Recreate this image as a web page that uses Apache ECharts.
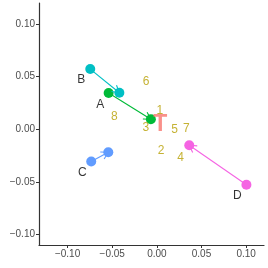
<!DOCTYPE html>
<html><head><meta charset="utf-8">
<script src="https://cdn.jsdelivr.net/npm/echarts@6/dist/echarts.min.js"></script>
<style>html,body{margin:0;padding:0;background:#fff}#c{width:268px;height:268px}</style>
</head><body><div id="c"></div>
<script>
const groups = ['A','B','C','D'];
const groupColors = ['#00BA38','#00BFC4','#619CFF','#F564E3'];
const startX = [-0.054,-0.0746,-0.0735,0.1003];
const startY = [0.0344,0.0572,-0.0307,-0.0528];
const endX = [-0.0067,-0.042,-0.0544,0.0363];
const endY = [0.0095,0.0347,-0.0218,-0.0152];
const groupLabelX = [-0.0635,-0.0847,-0.0836,0.0902];
const groupLabelY = [0.0238,0.0468,-0.0415,-0.0634];
const numLabels = ['1','2','3','4','5','6','7','8'];
const numX = [0.0034,0.0048,-0.0124,0.0265,0.0198,-0.012,0.0329,-0.0476];
const numY = [0.0176,-0.0199,0.0019,-0.0269,0.0,0.0449,0.0006,0.012];
const targetLabel = 'T';
const targetX = [0.0037];
const targetY = [0.004];
const tickValues = [-0.10,-0.05,0.00,0.05,0.10];

const fmt = v => (v < 0 ? '\u2212' : '') + Math.abs(v).toFixed(2);
const axisCommon = {
  type:'value', splitLine:{show:false},
  axisLine:{show:true, onZero:false, lineStyle:{color:'#333', width:1.2}},
  axisTick:{show:true, length:3, lineStyle:{color:'#333'}, customValues:tickValues},
  axisLabel:{color:'#4d4d4d', fontSize:10, fontFamily:'Liberation Sans', formatter:fmt, customValues:tickValues, margin:4}
};
const arrowData = groups.map((g,i)=>[startX[i],startY[i],endX[i],endY[i],i]);
const chart = echarts.init(document.getElementById('c'));
chart.setOption({
  animation:false,
  grid:{left:39, right:4, top:3, bottom:23, containLabel:false},
  xAxis:Object.assign({}, axisCommon, {min:-0.132, max:0.12}),
  yAxis:Object.assign({}, axisCommon, {min:-0.11, max:0.12}),
  series:[
    {
      type:'custom',
      data:arrowData,
      encode:{x:[0,2], y:[1,3]},
      renderItem:function(params, api){
        const i = api.value(4);
        const col = groupColors[i];
        const p0 = api.coord([api.value(0), api.value(1)]);
        const p1 = api.coord([api.value(2), api.value(3)]);
        const ang = Math.atan2(p1[1]-p0[1], p1[0]-p0[0]);
        const L = 8, a = Math.PI/6;
        const h1 = [p1[0]-L*Math.cos(ang-a), p1[1]-L*Math.sin(ang-a)];
        const h2 = [p1[0]-L*Math.cos(ang+a), p1[1]-L*Math.sin(ang+a)];
        return {type:'group', children:[
          {type:'circle', shape:{cx:p0[0], cy:p0[1], r:5}, style:{fill:col}},
          {type:'circle', shape:{cx:p1[0], cy:p1[1], r:5}, style:{fill:col}},
          {type:'line', shape:{x1:p0[0], y1:p0[1], x2:p1[0], y2:p1[1]}, style:{stroke:col, lineWidth:1.1}},
          {type:'polyline', shape:{points:[h1,p1,h2]}, style:{stroke:col, lineWidth:1.1, fill:null}}
        ]};
      }
    },
    {
      type:'scatter', symbolSize:0,
      data:groups.map((g,i)=>({name:g, value:[groupLabelX[i],groupLabelY[i]]})),
      label:{show:true, position:'inside', formatter:'{b}', color:'#000', fontSize:12, fontFamily:'Liberation Sans'}
    },
    {
      type:'scatter', symbolSize:0,
      data:numLabels.map((g,i)=>({name:g, value:[numX[i],numY[i]]})),
      label:{show:true, position:'inside', formatter:'{b}', color:'#B79F00', fontSize:12, fontFamily:'Liberation Sans'}
    },
    {
      type:'scatter', symbolSize:0,
      data:[{name:targetLabel, value:[targetX[0],targetY[0]]}],
      label:{show:true, position:'inside', formatter:'{b}', color:'#F8766D', fontSize:23, fontWeight:'bold', fontFamily:'Liberation Sans'}
    }
  ]
});
</script></body></html>
